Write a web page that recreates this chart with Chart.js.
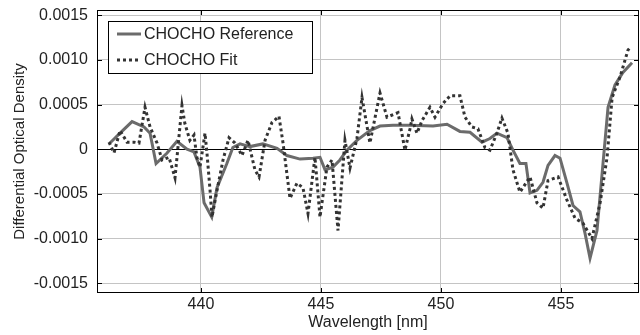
<!DOCTYPE html>
<html>
<head>
<meta charset="utf-8">
<script src="https://cdn.jsdelivr.net/npm/chart.js@4"></script>
<style>
  html, body { margin: 0; padding: 0; background: #fff; }
  #wrap { width: 640px; height: 335px; }
</style>
</head>
<body>
<div id="wrap"><canvas id="odChart" width="640" height="335"></canvas></div>
<script>
// CHOCHO reference cross section vs fitted residual
const refWavelength = [436.21, 436.63, 437.13, 437.63, 437.88, 438.13, 438.58, 439.0, 439.42, 439.71, 439.96, 440.13, 440.45, 440.67, 441.08, 441.33, 441.63, 442.04, 442.58, 443.17, 443.58, 444.13, 444.67, 444.96, 445.17, 445.5, 445.79, 446.08, 446.5, 447.04, 447.46, 448.0, 448.71, 449.67, 450.25, 450.79, 451.21, 451.71, 452.04, 452.33, 452.75, 453.0, 453.29, 453.54, 453.71, 454.0, 454.25, 454.46, 454.75, 454.96, 455.25, 455.5, 455.79, 456.0, 456.21, 456.5, 456.75, 456.96, 457.25, 457.58, 457.96];
const refOD = [0.00007, 0.00018, 0.00031, 0.00025, 0.00018, -0.00016, -0.000045, 0.00009, 0, -0.00003, -0.0002, -0.0006, -0.00076, -0.00043, -0.00016, 0.00002, 0.00006, 0.00003, 0.00006, 0.00001, -0.00007, -0.00011, -0.0001, -0.00009, -0.00023, -0.0002, -0.00012, -0.00001, 0.0001, 0.00021, 0.00026, 0.00027, 0.00027, 0.00026, 0.00028, 0.0002, 0.00019, 0.00008, 0.00012, 0.00018, 0.00013, -0.00001, -0.00016, -0.00016, -0.00049, -0.00046, -0.00037, -0.00018, -0.00007, -0.0001, -0.00038, -0.00063, -0.0007, -0.00094, -0.00122, -0.00091, -0.00016, 0.00047, 0.00072, 0.00086, 0.00097];

const fitWavelength = [436.17, 436.38, 436.63, 436.92, 437.21, 437.42, 437.67, 437.88, 438.17, 438.38, 438.67, 438.92, 439.21, 439.33, 439.54, 439.71, 439.83, 439.96, 440.17, 440.25, 440.38, 440.46, 440.67, 440.92, 441.17, 441.42, 441.71, 441.96, 442.25, 442.42, 442.67, 442.96, 443.25, 443.42, 443.71, 444.0, 444.25, 444.46, 444.75, 444.96, 445.25, 445.46, 445.71, 446.0, 446.21, 446.5, 446.71, 447.04, 447.46, 447.75, 448.21, 448.5, 448.71, 448.79, 449.0, 449.21, 449.54, 449.75, 450.08, 450.38, 450.79, 451.0, 451.29, 451.54, 451.83, 452.04, 452.33, 452.54, 452.79, 453.0, 453.29, 453.71, 454.0, 454.25, 454.46, 454.88, 455.25, 455.58, 455.92, 456.29, 456.63, 456.92, 457.13, 457.46, 457.79, 457.88];
const fitOD = [0.00008, -0.00004, 0.00021, 0.00008, 0.00008, 0.00007, 0.00047, 0.00025, 0.00007, -0.00012, -0.00009, -0.00032, 0.00049, 0.00029, 0.0001, 0.00016, -0.00009, -0.0002, 0.00018, -0.00004, -0.00046, -0.00076, -0.00046, -0.00012, 0.00013, 0.00007, -0.00007, 0.0001, -0.00023, -0.00031, 0.0001, 0.0003, 0.00037, 0.00007, -0.00055, -0.00038, -0.00043, -0.00072, -0.00009, -0.00076, -0.0002, -0.00012, -0.00091, 0.0001, -0.00021, 0.00012, 0.00058, 0.00007, 0.00063, 0.00036, 0.00041, -0.00001, 0.00023, 0.00034, 0.00018, 0.00032, 0.00047, 0.00036, 0.00051, 0.0006, 0.0006, 0.00036, 0.00025, 0.00023, 0.00002, -0.00001, 0.00018, 0.00035, 0.00018, -0.00023, -0.00048, -0.00031, -0.0006, -0.00066, -0.00035, -0.00031, -0.00057, -0.00077, -0.00083, -0.001, -0.0006, -0.00009, 0.00058, 0.00081, 0.00111, 0.00114];

const seriesNames = ['CHOCHO Reference', 'CHOCHO Fit'];
const xTicks = [440, 445, 450, 455];
const yTicks = [-0.0015, -0.001, -0.0005, 0, 0.0005, 0.001, 0.0015];
const yTickLabels = ['-0.0015', '-0.0010', '-0.0005', '0', '0.0005', '0.0010', '0.0015'];

const FONT = "'Liberation Sans', Arial, sans-serif";
const toPoints = (xs, ys) => xs.map((x, i) => ({ x: x, y: ys[i] }));

// frame, inward tick marks and legend box (matlab style)
const framePlugin = {
  id: 'frame',
  afterDraw(chart) {
    const ctx = chart.ctx;
    const a = chart.chartArea;
    const xs = chart.scales.x, ys = chart.scales.y;
    ctx.save();
    ctx.strokeStyle = '#000';
    ctx.lineWidth = 1;
    ctx.strokeRect(a.left + 0.5, a.top + 0.5, a.right - a.left - 1, a.bottom - a.top - 1);
    ctx.beginPath();
    xTicks.forEach(v => {
      const px = Math.round(xs.getPixelForValue(v)) + 0.5;
      ctx.moveTo(px, a.bottom); ctx.lineTo(px, a.bottom - 5);
      ctx.moveTo(px, a.top); ctx.lineTo(px, a.top + 5);
    });
    yTicks.forEach(v => {
      const py = Math.round(ys.getPixelForValue(v)) + 0.5;
      ctx.moveTo(a.left, py); ctx.lineTo(a.left + 5, py);
      ctx.moveTo(a.right, py); ctx.lineTo(a.right - 5, py);
    });
    ctx.stroke();

    // legend
    const bx = a.left + 11, by = a.top + 11, bw = 204, bh = 52;
    ctx.fillStyle = '#fff';
    ctx.fillRect(bx, by, bw, bh);
    ctx.strokeRect(bx + 0.5, by + 0.5, bw, bh);
    const ds = chart.data.datasets;
    [0, 1].forEach(i => {
      const d = ds.find(s => s.label === seriesNames[i]);
      const ly = by + 13 + i * 26;
      ctx.beginPath();
      ctx.strokeStyle = d.borderColor;
      ctx.lineWidth = d.borderWidth;
      ctx.setLineDash(d.borderDash || []);
      ctx.moveTo(bx + 9, ly); ctx.lineTo(bx + 33, ly);
      ctx.stroke();
      ctx.setLineDash([]);
      ctx.fillStyle = '#222';
      ctx.font = '16px ' + FONT;
      ctx.textBaseline = 'middle';
      ctx.fillText(seriesNames[i], bx + 36, ly + 1);
    });
    ctx.restore();
  }
};

new Chart(document.getElementById('odChart').getContext('2d'), {
  type: 'line',
  data: {
    datasets: [
      {
        label: seriesNames[1],
        data: toPoints(fitWavelength, fitOD),
        borderColor: '#333333',
        borderWidth: 3,
        borderDash: [3, 3],
        borderJoinStyle: 'miter',
        pointRadius: 0,
        tension: 0,
        order: 0
      },
      {
        label: seriesNames[0],
        data: toPoints(refWavelength, refOD),
        borderColor: '#6b6b6b',
        borderWidth: 3,
        pointRadius: 0,
        tension: 0,
        order: 1
      }
    ]
  },
  options: {
    responsive: false,
    animation: false,
    layout: { padding: { top: 10, right: 1, left: 0, bottom: 0 } },
    plugins: {
      legend: { display: false },
      tooltip: { enabled: false }
    },
    scales: {
      x: {
        type: 'linear',
        min: 435.67,
        max: 458.25,
        afterBuildTicks: s => { s.ticks = xTicks.map(v => ({ value: v })); },
        afterFit: s => { s.height = 42; },
        grid: { color: '#c4c4c4', lineWidth: 1, drawTicks: false },
        border: { display: false },
        ticks: { padding: 2, color: '#222', font: { family: FONT, size: 16 }, callback: v => String(v) },
        title: { display: true, text: 'Wavelength [nm]', color: '#222', font: { family: FONT, size: 16 }, padding: { top: 0, bottom: 3 } }
      },
      y: {
        min: -0.00161,
        max: 0.00156,
        afterBuildTicks: s => { s.ticks = yTicks.map(v => ({ value: v })); },
        afterFit: s => { s.width = 97; s.paddingTop = 0; s.paddingBottom = 0; },
        grid: {
          color: c => (c.tick && c.tick.value === 0 ? '#000' : '#c4c4c4'),
          lineWidth: 1,
          drawTicks: false
        },
        border: { display: false },
        ticks: {
          padding: 9,
          color: '#222',
          font: { family: FONT, size: 16, lineHeight: 1 },
          callback: v => yTickLabels[yTicks.indexOf(v)]
        },
        title: { display: true, text: 'Differential Optical Density', color: '#222', font: { family: FONT, size: 15 }, padding: { top: 11, bottom: 0 } }
      }
    }
  },
  plugins: [framePlugin]
});
</script>
</body>
</html>
